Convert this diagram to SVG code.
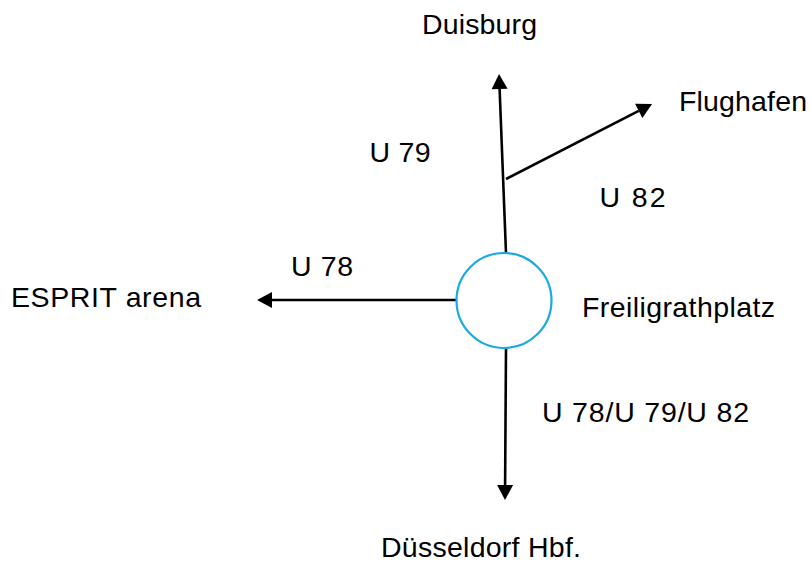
<svg xmlns="http://www.w3.org/2000/svg" width="812" height="563" viewBox="0 0 812 563">
<style>
text{font-family:"Liberation Sans",Arial,sans-serif;font-size:28.5px;fill:#000}
.ln{stroke:#000;stroke-width:2.6;fill:none}
</style>
<defs>
<marker id="ah" markerUnits="userSpaceOnUse" markerWidth="16" markerHeight="18" refX="0" refY="8" orient="auto" viewBox="0 0 16 16" overflow="visible">
<path d="M0,0 L15,8 L0,16 z" fill="#000"/>
</marker>
</defs>
<rect width="812" height="563" fill="#fff"/>
<g id="connectors">
<path class="ln" d="M506,253 L499.6,89" marker-end="url(#ah)"/>
<path class="ln" d="M506,179 L638.7,110.9" marker-end="url(#ah)"/>
<path class="ln" d="M456,300 L272,300" marker-end="url(#ah)"/>
<path class="ln" d="M506,348 L505.1,485" marker-end="url(#ah)"/>
</g>
<g id="freiligrathplatz">
<circle cx="504" cy="300.5" r="47.5" fill="#fff" stroke="#1aa9e3" stroke-width="2.2"/>
<text x="582" y="317" textLength="193" lengthAdjust="spacing">Freiligrathplatz</text>
</g>
<g id="duisburg"><text x="422" y="34" textLength="115" lengthAdjust="spacing">Duisburg</text></g>
<g id="flughafen"><text x="679" y="111" textLength="128" lengthAdjust="spacing">Flughafen</text></g>
<g id="esprit"><text x="11" y="307" textLength="190" lengthAdjust="spacing">ESPRIT arena</text></g>
<g id="hbf"><text x="381" y="557" textLength="200" lengthAdjust="spacing">Düsseldorf Hbf.</text></g>
<g id="labels">
<text x="369.5" y="162" textLength="61" lengthAdjust="spacing">U 79</text>
<text x="599.5" y="207" textLength="66" lengthAdjust="spacing">U 82</text>
<text x="291" y="276" textLength="62" lengthAdjust="spacing">U 78</text>
<text x="542" y="422" textLength="207" lengthAdjust="spacing">U 78/U 79/U 82</text>
</g>
</svg>
